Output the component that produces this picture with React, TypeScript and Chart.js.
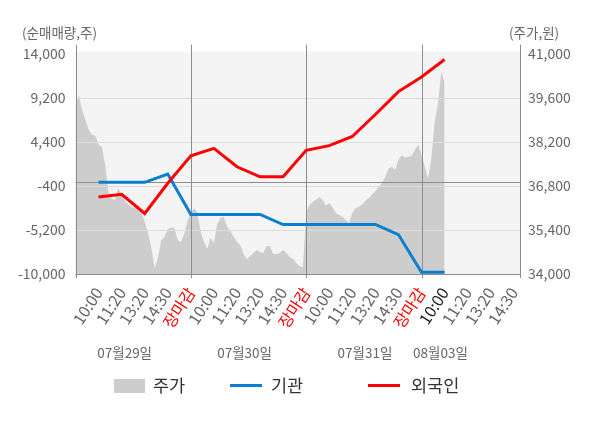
import { useEffect, useRef } from "react";
import { Chart, registerables, type Plugin } from "chart.js";

Chart.register(...registerables);

const FONT = "'Noto Sans CJK KR', 'Noto Sans', sans-serif";

// x axis slots: 5 per trading day, tick labels sit on slots 1..19
const xTickLabels = [
  "10:00", "11:20", "13:20", "14:30", "장마감",
  "10:00", "11:20", "13:20", "14:30", "장마감",
  "10:00", "11:20", "13:20", "14:30", "장마감",
  "10:00", "11:20", "13:20", "14:30",
];
const dateLabels = ["07월29일", "07월30일", "07월31일", "08월03일"];

// 주가 (won), sampled evenly through each session
const priceDay1 = [
  39290, 39700, 39225, 38910, 38590, 38430, 38400, 38110, 38050, 37470,
  36580, 36390, 36360, 36740, 36490, 36330, 36200, 36130, 36100, 36040,
  35940, 35660, 35310, 34860, 34190, 34510, 35080, 35180, 35430, 35470,
  35470, 35080, 35020, 35270, 35720,
];
const priceDay2 = [
  35940, 36100, 35940, 35340, 35020, 34800, 35150, 34990, 35590, 35780,
  35820, 35500, 35370, 35180, 35020, 34920, 34640, 34480, 34570, 34670,
  34760, 34700, 34670, 34890, 34890, 34640, 34640, 34670, 34760, 34670,
  34540, 34480, 34350, 34250, 34220,
];
const priceDay3 = [
  35940, 36200, 36290, 36360, 36450, 36360, 36170, 36260, 36130, 35940,
  35880, 35820, 35720, 35620, 35940, 36100, 36130, 36200, 36330, 36420,
  36520, 36640, 36770, 36900, 37090, 37350, 37410, 37310, 37630, 37790,
  37700, 37730, 37760, 37950, 38110,
];
const priceDay4 = [37790, 37410, 37030, 37700, 38840, 39420, 40440, 40090];

// 순매매량 (shares), one value per tick slot 1..16
const gigwan = [
  0, 0, 0, 900, -3500, -3500, -3500, -3500,
  -4600, -4600, -4600, -4600, -4600, -5700, -9800, -9800,
];
const foreign = [
  -1600, -1300, -3400, -100, 2900, 3700, 1700, 600,
  600, 3500, 4000, 5000, 7400, 9900, 11500, 13400,
];

const SLOTS_PER_DAY = 5;
const SAMPLES_PER_DAY = 35;
const X_MAX = 19.27;

const decor: Plugin = {
  id: "decor",
  beforeDraw(chart) {
    const { ctx, chartArea: a } = chart;
    ctx.save();
    ctx.fillStyle = "#f4f4f4";
    ctx.fillRect(a.left, a.top - 2.6, a.right - a.left, a.bottom - a.top + 2.6);
    ctx.restore();
  },
  afterDatasetDraw(chart, args) {
    if (args.index !== 0) return;
    const { ctx, chartArea: a, scales } = chart;
    const x = scales.x;
    const y = scales.y;
    const px = (v: number) => Math.round(v) + 0.5;
    ctx.save();
    ctx.lineWidth = 1;
    ctx.strokeStyle = "#dcdcdc";
    y.ticks.forEach((t) => {
      if (t.value === y.max || t.value === y.min) return;
      const yy = px(y.getPixelForValue(t.value));
      ctx.beginPath();
      ctx.moveTo(a.left, yy);
      ctx.lineTo(a.right, yy);
      ctx.stroke();
    });
    ctx.strokeStyle = "#8c8c8c";
    const zero = px(y.getPixelForValue(0));
    const bottom = px(a.bottom);
    ctx.beginPath();
    ctx.moveTo(a.left, zero);
    ctx.lineTo(a.right, zero);
    ctx.moveTo(a.left, bottom);
    ctx.lineTo(a.right, bottom);
    [0, 5, 10, 15, X_MAX].forEach((v) => {
      const xx = px(x.getPixelForValue(v));
      ctx.moveTo(xx, a.top - 9.3);
      ctx.lineTo(xx, a.bottom + 4);
    });
    ctx.stroke();
    ctx.restore();
  },
  afterDraw(chart) {
    const { ctx, chartArea: a, scales } = chart;
    ctx.save();
    ctx.fillStyle = "#666";
    ctx.textBaseline = "middle";
    ctx.font = `13.5px ${FONT}`;
    ctx.textAlign = "left";
    ctx.fillText("(순매매량,주)", 22, 33);
    ctx.fillText("(주가,원)", 509, 33);
    ctx.textAlign = "center";
    const dateSlots = [2.13, 7.33, 12.55, 15.82];
    dateLabels.forEach((d, i) => {
      ctx.fillText(d, scales.x.getPixelForValue(dateSlots[i]), a.bottom + 79);
    });
    ctx.restore();
  },
};

function ChartCanvas() {
  const canvasRef = useRef<HTMLCanvasElement | null>(null);
  const chartRef = useRef<Chart | null>(null);

  useEffect(() => {
    if (!canvasRef.current) return;
    if (chartRef.current) chartRef.current.destroy();

    const priceDays = [priceDay1, priceDay2, priceDay3, priceDay4];
    const pricePoints = priceDays.flatMap((day, d) =>
      day.map((p, i) => ({ x: d * SLOTS_PER_DAY + (i * SLOTS_PER_DAY) / SAMPLES_PER_DAY, y: p }))
    );
    const gigwanPoints = gigwan.map((v, i) => ({ x: i + 1, y: v }));
    const foreignPoints = foreign.map((v, i) => ({ x: i + 1, y: v }));

    chartRef.current = new Chart(canvasRef.current, {
      type: "line",
      data: {
        datasets: [
          {
            label: "주가",
            data: pricePoints,
            yAxisID: "y1",
            borderWidth: 0,
            pointRadius: 0,
            fill: "start",
            backgroundColor: "#cdcdcd",
            order: 3,
          },
          {
            label: "기관",
            data: gigwanPoints,
            yAxisID: "y",
            borderColor: "#0a7fcf",
            borderWidth: 3,
            pointRadius: 0,
            order: 2,
          },
          {
            label: "외국인",
            data: foreignPoints,
            yAxisID: "y",
            borderColor: "#ff0000",
            borderWidth: 3,
            pointRadius: 0,
            order: 1,
          },
        ],
      },
      options: {
        animation: false,
        responsive: true,
        maintainAspectRatio: false,
        layout: { padding: { top: 54, left: 0, right: 0, bottom: 0 } },
        plugins: { legend: { display: false }, tooltip: { enabled: false } },
        scales: {
          x: {
            type: "linear",
            min: 0,
            max: X_MAX,
            grid: { display: false, drawTicks: false },
            border: { display: false },
            afterBuildTicks: (scale) => {
              scale.ticks = xTickLabels.map((_, i) => ({ value: i + 1 }));
            },
            afterFit: (scale) => {
              scale.height = 154;
            },
            ticks: {
              autoSkip: false,
              minRotation: 57,
              maxRotation: 57,
              padding: 10,
              font: { family: FONT, size: 16 },
              color: (c) => {
                const label = xTickLabels[c.index];
                if (label === "장마감") return "#ff0000";
                if (c.index === 15) return "#222";
                return "#666";
              },
              callback: (_v, i) => xTickLabels[i],
            },
          },
          y: {
            position: "left",
            min: -10000,
            max: 14000,
            grid: { display: false, drawTicks: false },
            border: { display: false },
            afterFit: (scale) => {
              scale.width = 75.5;
            },
            ticks: {
              stepSize: 4800,
              padding: 10,
              font: { family: FONT, size: 14 },
              color: "#666",
              callback: (v) => Number(v).toLocaleString("en-US"),
            },
          },
          y1: {
            position: "right",
            min: 34000,
            max: 41000,
            grid: { display: false, drawTicks: false },
            border: { display: false },
            afterFit: (scale) => {
              scale.width = 80;
            },
            ticks: {
              stepSize: 1400,
              padding: 8,
              font: { family: FONT, size: 14 },
              color: "#666",
              callback: (v) => Number(v).toLocaleString("en-US"),
            },
          },
        },
      },
      plugins: [decor],
    });

    return () => {
      chartRef.current?.destroy();
      chartRef.current = null;
    };
  }, []);

  return <canvas ref={canvasRef} />;
}

const legendText = { position: "absolute" as const, top: 374, fontSize: 17.5, color: "#333", lineHeight: "22px" };

export default function App() {
  useEffect(() => {
    document.body.style.margin = "0";
  }, []);

  return (
    <div style={{ position: "relative", width: 600, height: 428, fontFamily: FONT }}>
      <ChartCanvas />
      <div style={{ position: "absolute", left: 114, top: 379, width: 31, height: 14, background: "#cdcdcd" }} />
      <span style={{ ...legendText, left: 153 }}>주가</span>
      <div style={{ position: "absolute", left: 230, top: 384, width: 32, height: 3, background: "#0a7fcf" }} />
      <span style={{ ...legendText, left: 271 }}>기관</span>
      <div style={{ position: "absolute", left: 368, top: 384, width: 32, height: 3, background: "#ff0000" }} />
      <span style={{ ...legendText, left: 411 }}>외국인</span>
    </div>
  );
}
